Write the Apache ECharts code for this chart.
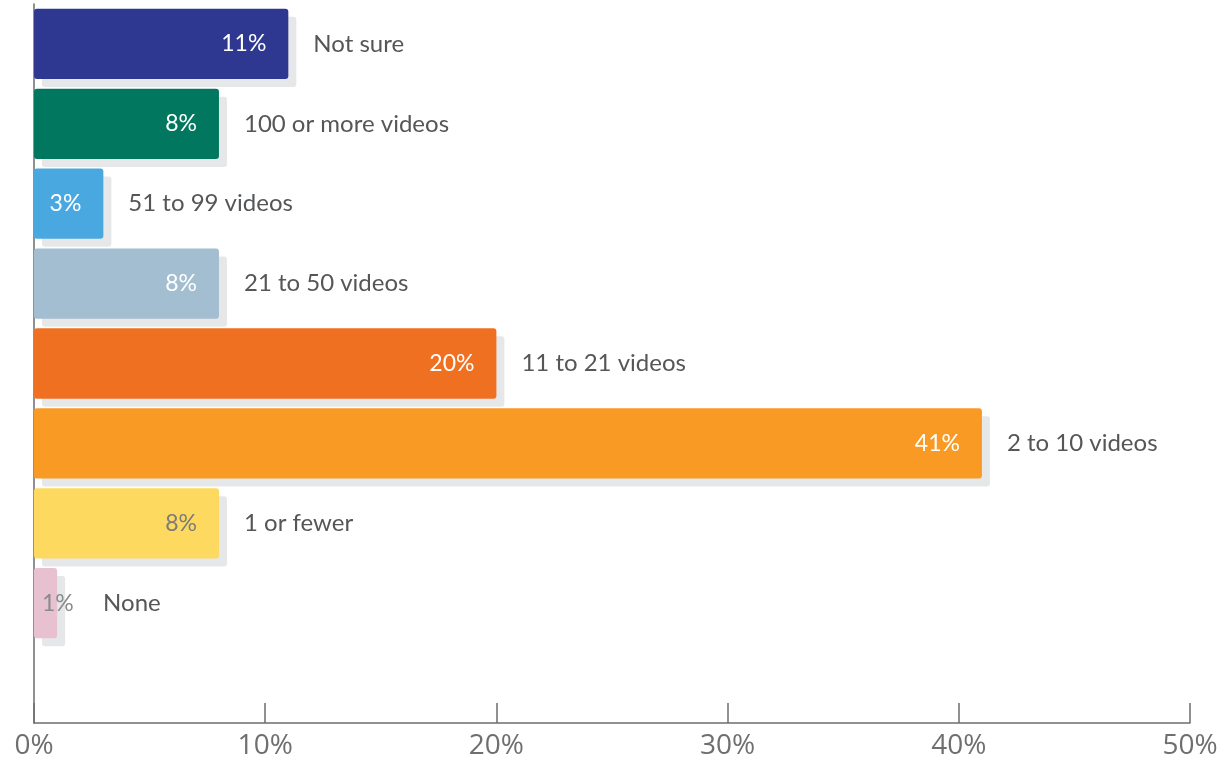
<!DOCTYPE html>
<html>
<head>
<meta charset="utf-8">
<script src="https://cdn.jsdelivr.net/npm/echarts@6/dist/echarts.min.js"></script>
<style>
  html, body { margin: 0; padding: 0; background: #ffffff; }
  #chart { width: 1232px; height: 761px; }
</style>
</head>
<body>
<div id="chart"></div>
<script>
// Answer categories, top to bottom
const categories = [
  'Not sure',
  '100 or more videos',
  '51 to 99 videos',
  '21 to 50 videos',
  '11 to 21 videos',
  '2 to 10 videos',
  '1 or fewer',
  'None'
];
// Share of respondents, percent
const shares = [11, 8, 3, 8, 20, 41, 8, 1];
// Bar fill per category
const barColors = ['#2e3891', '#00775e', '#4aa8e0', '#a3bdd1', '#f07022', '#f89a24', '#fed95f', '#e8c1d1'];
// Value label colour per category
const valueLabelColors = ['#ffffff', '#ffffff', '#ffffff', '#ffffff', '#ffffff', '#ffffff', '#7b7b7b', '#8a8a8a'];
// Percent axis
const axisMin = 0;
const axisMax = 50;
const axisStep = 10;

const FONT = 'Lato, "Open Sans", sans-serif';
const AXIS_FONT = '"Open Sans", Lato, sans-serif';
const AXIS_COLOR = '#6d6d6d';
const TEXT_COLOR = '#555658';

const chart = echarts.init(document.getElementById('chart'), null, { renderer: 'canvas' });

// Filled bars with a flat offset shadow and the value inside
const valueData = shares.map((v, i) => {
  const item = {
    value: v,
    itemStyle: { color: barColors[i] },
    label: { color: valueLabelColors[i] }
  };
  // the narrowest bar is too short to hold its value label on the right
  if (v < 2) {
    item.label.position = 'insideLeft';
    item.label.distance = 8;
  }
  return item;
});

// Transparent twin bars that carry the category names to the right
const nameData = shares.map((v, i) => {
  const item = { value: v };
  if (v < 2) item.label = { distance: 46 };
  return item;
});

chart.setOption({
  animation: false,
  grid: { left: 34, right: 42, top: 4, bottom: 38, containLabel: false },
  xAxis: {
    type: 'value',
    min: axisMin,
    max: axisMax,
    interval: axisStep,
    axisLine: { show: true, lineStyle: { color: AXIS_COLOR, width: 1.5 } },
    axisTick: { show: true, inside: true, length: 20, lineStyle: { color: AXIS_COLOR, width: 1.5 } },
    axisLabel: {
      formatter: '{value}%',
      fontSize: 28,
      fontFamily: AXIS_FONT,
      color: '#6f6f6f',
      margin: 9
    },
    splitLine: { show: false }
  },
  yAxis: {
    type: 'category',
    inverse: true,
    data: categories.concat(['']),
    axisLine: { show: true, lineStyle: { color: AXIS_COLOR, width: 1.5 } },
    axisTick: { show: false },
    axisLabel: { show: false },
    splitLine: { show: false }
  },
  series: [
    {
      type: 'bar',
      data: valueData,
      barCategoryGap: '12%',
      itemStyle: {
        borderRadius: 3,
        shadowColor: '#e6e7e8',
        shadowBlur: 0,
        shadowOffsetX: 8,
        shadowOffsetY: 8
      },
      label: {
        show: true,
        position: 'insideRight',
        distance: 22,
        formatter: '{c}%',
        fontSize: 23,
        fontFamily: FONT
      },
      silent: true,
      z: 2
    },
    {
      type: 'bar',
      data: nameData,
      barGap: '-100%',
      barCategoryGap: '12%',
      itemStyle: { color: 'rgba(0,0,0,0)' },
      label: {
        show: true,
        position: 'right',
        distance: 25,
        formatter: p => categories[p.dataIndex],
        fontSize: 24,
        fontFamily: FONT,
        color: TEXT_COLOR
      },
      silent: true,
      z: 3
    }
  ]
});
</script>
</body>
</html>
